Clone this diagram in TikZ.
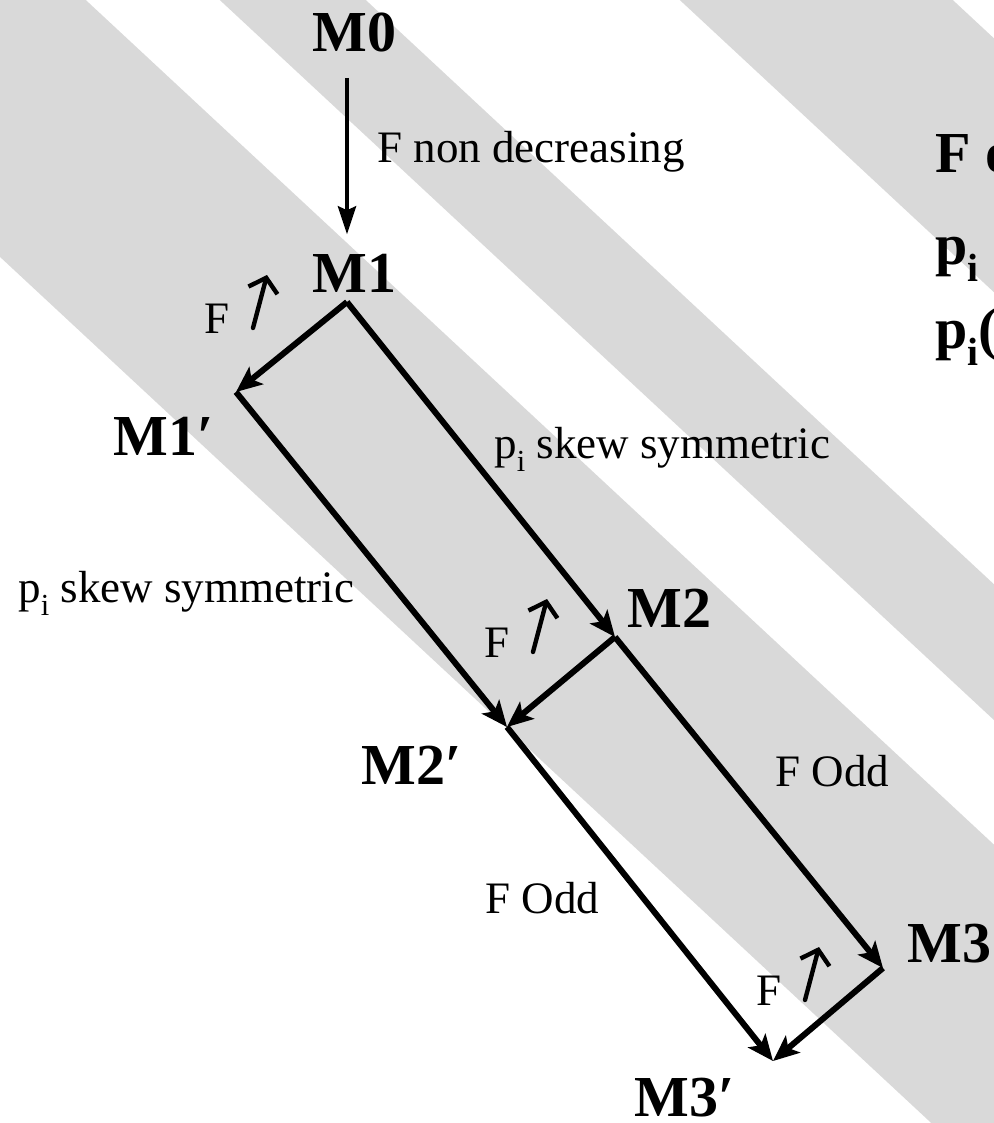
\documentclass[tikz,border=0pt]{standalone}
\usepackage{fontspec}
\setmainfont{Liberation Serif}
\usetikzlibrary{arrows.meta}
\newcommand{\lowsub}[1]{\raisebox{-0.3em}{\scalebox{0.68}{#1}}}

\begin{document}
\begin{tikzpicture}[x=0.5pt,y=-0.5pt,line join=round,line cap=round,
  stripe/.style={fill=black!15},
  mlbl/.style={font=\fontsize{29pt}{30pt}\selectfont\bfseries,inner sep=0pt,anchor=base west},
  lbl/.style={font=\fontsize{22.5pt}{24pt}\selectfont,inner sep=0pt,anchor=base west},
  flow/.style={line width=3pt,line cap=butt,-{Stealth[length=13pt,width=11pt,inset=3pt]}},
  thinflow/.style={line width=2.2pt,line cap=butt,-{Stealth[length=14pt,width=9pt,inset=2pt]}},
  incr/.style={line width=2.2pt,-{Straight Barb[length=6.5pt,width=15pt]}}]
				\useasboundingbox (0,0) rectangle (994,1123);
				\clip (0,0) rectangle (994,1123);
				
				% background stripes
				\foreach \a/\b in {-276/86,220/366,680/953}
				\fill[stripe] (\a-11,-10) -- (\b-11,-10) -- (\b+1218,1133) -- (\a+1218,1133) -- cycle;
				
				\coordinate (m1) at (347,302);
				\coordinate (m1p) at (236,392);
				\coordinate (m2) at (615,637);
				\coordinate (m2p) at (507,727);
				\coordinate (m3) at (883,968);
				\coordinate (m3p) at (773,1061);
				
				\node[mlbl] (M0) at (312,52) {M0};
				\node[mlbl] (M1) at (312,292) {M1};
				\node[mlbl] (M1p) at (113,455) {M1′};
				\node[mlbl] (M2) at (627,627) {M2};
				\node[mlbl] (M2p) at (361,784) {M2′};
				\node[mlbl] (M3) at (907,962) {M3};
				\node[mlbl] (M3p) at (634,1116) {M3′};
				
				\draw[thinflow,shorten <=12.5pt,shorten >=9.5pt] (M0.south -| m1) -- (M1.north -| m1);
				\draw[flow] (m1) -- (m1p);
				\draw[flow] (m1) -- (m2);
				\draw[flow] (m1p) -- (m2p);
				\draw[flow] (m2) -- (m2p);
				\draw[flow] (m2) -- (m3);
				\draw[flow] (m2p) -- (m3p);
				\draw[flow] (m3) -- (m3p);
				
				\node[lbl] (nondec) at (377,163) {F non decreasing};
				\node[lbl] (skewR) at (494,458) {p\lowsub{i} skew symmetric};
				\node[lbl] (skewL) at (18,602) {p\lowsub{i} skew symmetric};
				\node[lbl] (oddR) at (775,786) {F Odd};
				\node[lbl] (oddL) at (485,913) {F Odd};
				
				% F increasing marks
				\foreach \x/\y in {253/328,533/652,805/1000}{
					\node[lbl] (F\x) at (\x-49,\y+5) {F};
					\draw[incr] (\x,\y) -- ++(14,-53);
				}
				
				\node[mlbl] (side1) at (935,173) {F o};
				\node[mlbl] (side2) at (935,264) {p\lowsub{i}};
				\node[mlbl] (side3) at (935,348) {p\lowsub{i}(};
			\end{tikzpicture}
\end{document}
